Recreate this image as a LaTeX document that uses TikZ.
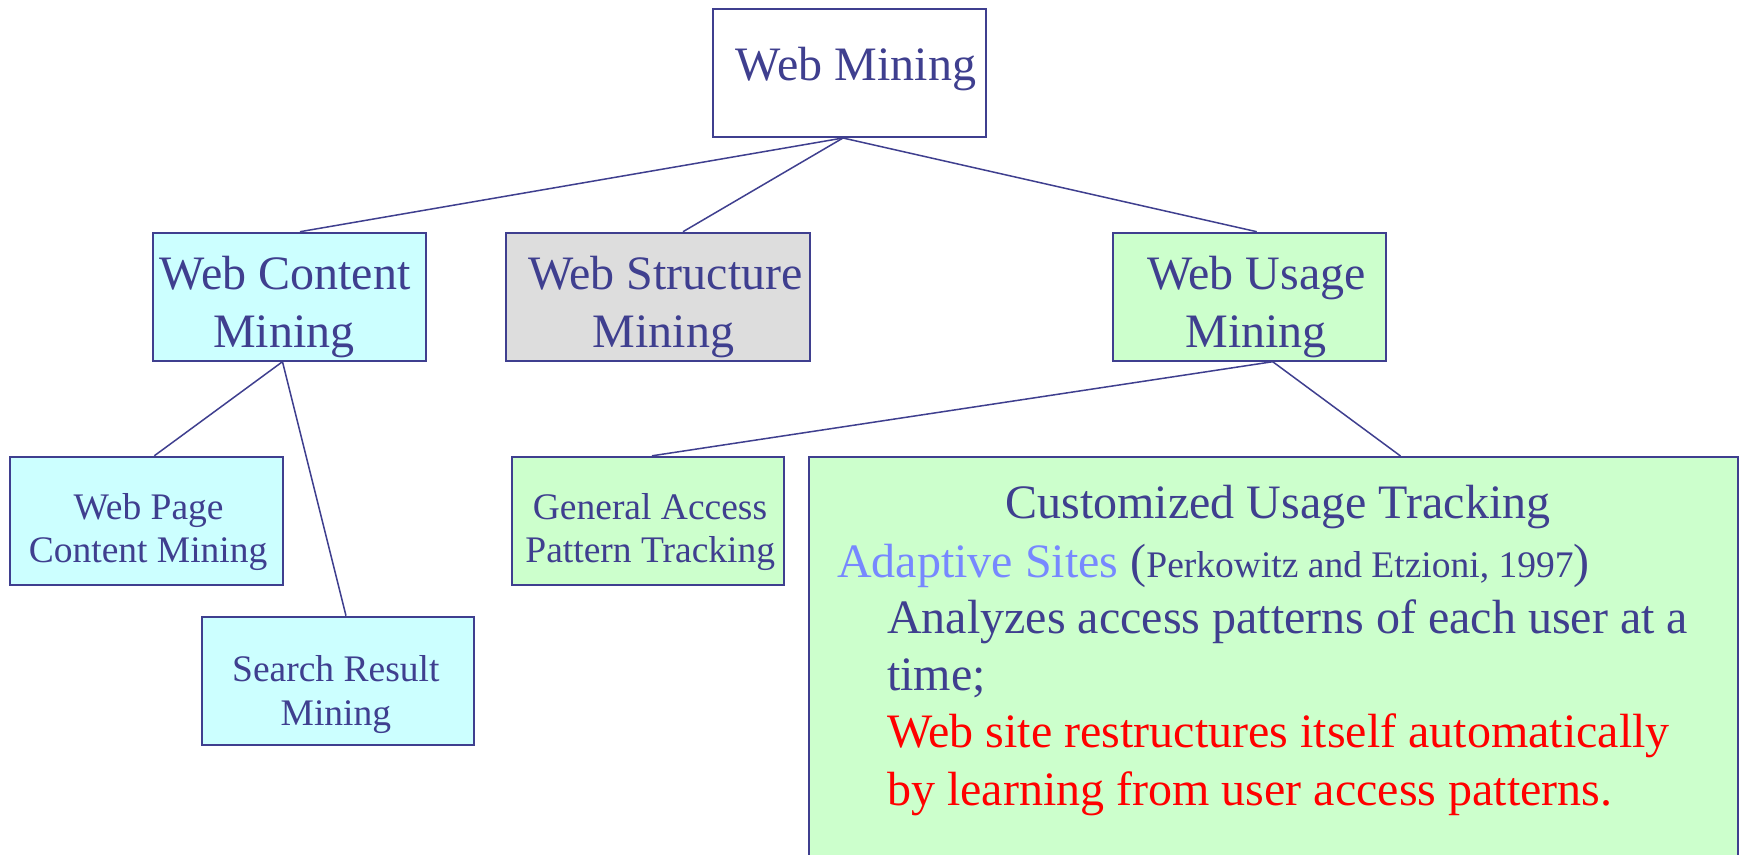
\documentclass[tikz,border=0pt]{standalone}
\usepackage{fontspec}
\setmainfont{Liberation Serif}
\usetikzlibrary{calc}
\definecolor{navy}{HTML}{3F3F8F}
\definecolor{cyanfill}{HTML}{CCFFFF}
\definecolor{greenfill}{HTML}{CCFFCC}
\definecolor{grayfill}{HTML}{DDDDDD}
\definecolor{adapt}{HTML}{7788FF}
\begin{document}
\begin{tikzpicture}[x=1pt,y=-1pt,
  box/.style={draw=navy,line width=2pt,rectangle,inner sep=0pt,minimum height=128pt},
  big/.style={text=navy,inner sep=0pt,anchor=base,font=\fontsize{48}{58}\selectfont},
  small/.style={text=navy,inner sep=0pt,anchor=base,font=\fontsize{37.5}{43}\selectfont},
  bodytxt/.style={inner sep=0pt,anchor=base west,font=\fontsize{48}{58}\selectfont},
  link/.style={draw=navy,line width=1.5pt}]
\useasboundingbox (0,0) rectangle (1740,854);
\fill[white] (0,0) rectangle (1740,854);

% boxes
\node[box,fill=white,minimum width=273pt] (wm) at (849.5,73) {};
\node[box,fill=cyanfill,minimum width=273pt] (wcm) at (289.5,296.7) {};
\node[box,fill=grayfill,minimum width=304pt] (wsm) at (658,296.7) {};
\node[box,fill=greenfill,minimum width=273pt] (wum) at (1249.7,296.7) {};
\node[box,fill=cyanfill,minimum width=273pt] (wpc) at (146,520.8) {};
\node[box,fill=cyanfill,minimum width=272pt] (srm) at (338,680.7) {};
\node[box,fill=greenfill,minimum width=272pt] (gap) at (648,520.8) {};
\node[box,fill=greenfill,minimum width=929pt,minimum height=426pt] (cut) at (1273.5,670) {};

% junction points
\coordinate (wmj) at ($(wm.south)+(-6.5,0)$);
\coordinate (wcj) at ($(wcm.south)+(-7,0)$);
\coordinate (wuj) at ($(wum.south)+(23,0)$);

% connectors
\draw[link] (wmj) -- ($(wcm.north)+(10.5,0)$);
\draw[link] (wmj) -- ($(wsm.north)+(25,0)$);
\draw[link] (wmj) -- ($(wum.north)+(7,0)$);
\draw[link] (wcj) -- ($(wpc.north)+(8.3,0)$);
\draw[link] (wcj) -- ($(srm.north)+(8,0)$);
\draw[link] (wuj) -- ($(gap.north)+(4,0)$);
\draw[link] (wuj) -- ($(cut.north)+(127,0)$);

% texts
\node[big] (wmt) at (856,80) {Web Mining};
\node[big] (wcmt1) at (285,289) {Web Content};
\node[big] (wcmt2) at (284,347.7) {Mining};
\node[big] (wsmt1) at (665.4,289) {Web Structure};
\node[big] (wsmt2) at (663.5,347.7) {Mining};
\node[big] (wumt1) at (1256.5,289) {Web Usage};
\node[big] (wumt2) at (1256,347.7) {Mining};
\node[small] (wpct1) at (148.6,519) {Web Page};
\node[small] (wpct2) at (148.1,562.3) {Content Mining};
\node[small] (srmt1) at (335.8,681.7) {Search Result};
\node[small] (srmt2) at (335.9,725) {Mining};
\node[small] (gapt1) at (650,519) {General Access};
\node[small] (gapt2) at (650.3,562.3) {Pattern Tracking};

\node[big] (cutt) at (1278,518) {Customized Usage Tracking};
\node[bodytxt] (adt) at (837,577) {\textcolor{adapt}{Adaptive Sites} \textcolor{navy}{(\fontsize{37.5}{40}\selectfont Perkowitz and Etzioni, 1997\fontsize{48}{58}\selectfont)}};
\node[bodytxt,text=navy] (b1) at (887,633) {Analyzes access patterns of each user at a};
\node[bodytxt,text=navy] (b2) at (887,690) {time;};
\node[bodytxt,text=red] (b3) at (887,747) {Web site restructures itself automatically};
\node[bodytxt,text=red] (b4) at (887,805) {by learning from user access patterns.};
\end{tikzpicture}
\end{document}
